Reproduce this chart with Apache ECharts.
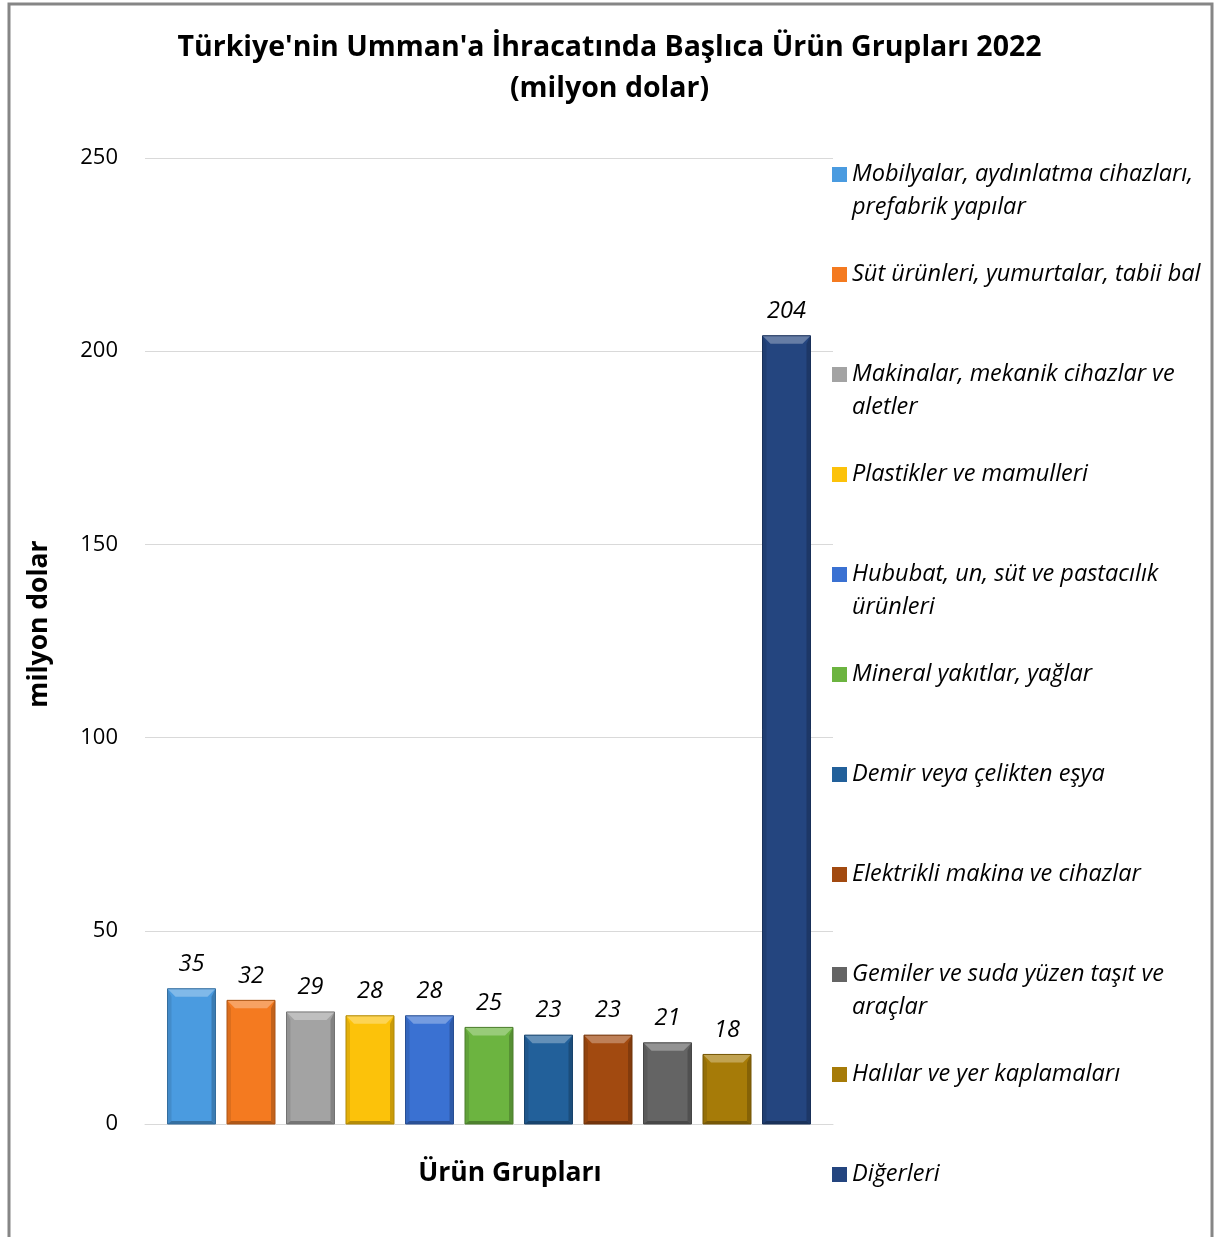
<!DOCTYPE html>
<html>
<head>
<meta charset="utf-8">
<script src="https://cdn.jsdelivr.net/npm/echarts@6/dist/echarts.min.js"></script>
<style>
html,body{margin:0;padding:0;background:#fff;}
#chart{width:1219px;height:1237px;}
</style>
</head>
<body>
<div id="chart"></div>
<script>
const titleText = "Türkiye'nin Umman'a İhracatında Başlıca Ürün Grupları 2022\n(milyon dolar)";
const xCategories = ['Ürün Grupları'];
const seriesNames = [
  'Mobilyalar, aydınlatma cihazları,\nprefabrik yapılar',
  'Süt ürünleri, yumurtalar, tabii bal',
  'Makinalar, mekanik cihazlar ve\naletler',
  'Plastikler ve mamulleri',
  'Hububat, un, süt ve pastacılık\nürünleri',
  'Mineral yakıtlar, yağlar',
  'Demir veya çelikten eşya',
  'Elektrikli makina ve cihazlar',
  'Gemiler ve suda yüzen taşıt ve\naraçlar',
  'Halılar ve yer kaplamaları',
  'Diğerleri'
];
const seriesValues = [35, 32, 29, 28, 28, 25, 23, 23, 21, 18, 204];
const seriesColors = ['#4a9be0','#f47a20','#a3a3a3','#fcc20a','#3a71d2','#6cb440','#22609a','#a24a10','#646464','#a67b08','#24457f'];
const yTicks = [0, 50, 100, 150, 200, 250];

function shade(hex, f) {
  const n = parseInt(hex.slice(1), 16);
  let r = (n >> 16) & 255, g = (n >> 8) & 255, b = n & 255;
  if (f < 0) { r = Math.round(r * (1 + f)); g = Math.round(g * (1 + f)); b = Math.round(b * (1 + f)); }
  else { r = Math.round(r + (255 - r) * f); g = Math.round(g + (255 - g) * f); b = Math.round(b + (255 - b) * f); }
  return 'rgb(' + r + ',' + g + ',' + b + ')';
}

const FONT = '"Open Sans"';
const BAR_W = 48;
const PITCH = 59.5;
const BEV = 8;
const N = seriesNames.length;

const chart = echarts.init(document.getElementById('chart'), null, {renderer: 'canvas'});

function makeRender(idx) {
  const c = seriesColors[idx];
  return function (params, api) {
    const val = api.value(1);
    const p0 = api.coord([api.value(0), 0]);
    const p1 = api.coord([api.value(0), val]);
    const cx = p0[0] + (idx - (N - 1) / 2) * PITCH;
    const x = cx - BAR_W / 2, w = BAR_W;
    const yT = p1[1], yB = p0[1];
    const b = BEV, s = 4;
    return {
      type: 'group',
      children: [
        {type: 'rect', shape: {x: x, y: yT, width: w, height: yB - yT},
         style: {fill: c}},
        {type: 'polygon', shape: {points: [[x, yT], [x + s, yT + b], [x + s, yB - 3], [x, yB]]},
         style: {fill: shade(c, -0.1)}},
        {type: 'polygon', shape: {points: [[x + w, yT], [x + w - s, yT + b], [x + w - s, yB - 3], [x + w, yB]]},
         style: {fill: shade(c, -0.2)}},
        {type: 'polygon', shape: {points: [[x, yB], [x + s, yB - 3], [x + w - s, yB - 3], [x + w, yB]]},
         style: {fill: shade(c, -0.28)}},
        {type: 'polygon', shape: {points: [[x, yT], [x + w, yT], [x + w - b, yT + b], [x + b, yT + b]]},
         style: {fill: shade(c, 0.3)}},
        {type: 'rect', shape: {x: x, y: yT, width: w, height: yB - yT},
         style: {fill: 'none', stroke: shade(c, -0.3), lineWidth: 1}},
        {type: 'text', style: {
          text: String(val), x: cx, y: yT - 13, align: 'center', verticalAlign: 'bottom',
          fontFamily: 'Open Sans', fontStyle: 'italic', fontSize: 23.5, fill: '#000'
        }}
      ]
    };
  };
}

const series = seriesNames.map((name, i) => ({
  name: name,
  type: 'custom',
  coordinateSystem: 'cartesian2d',
  renderItem: makeRender(i),
  itemStyle: {color: seriesColors[i]},
  encode: {x: 0, y: 1},
  data: [[xCategories[0], seriesValues[i]]]
}));

chart.setOption({
  animation: false,
  backgroundColor: '#fff',
  color: seriesColors,
  title: {
    text: titleText,
    left: 'center',
    top: 27,
    padding: 0,
    textStyle: {fontFamily: FONT, fontWeight: 'bold', fontSize: 28.5, lineHeight: 41, color: '#000'}
  },
  graphic: [{
    type: 'rect',
    shape: {x: 9, y: 4, width: 1203, height: 1300},
    style: {fill: 'none', stroke: '#868686', lineWidth: 3},
    silent: true
  }],
  legend: {
    orient: 'vertical',
    left: 832,
    top: 125,
    padding: 0,
    itemWidth: 15,
    itemHeight: 15,
    itemGap: 1,
    icon: 'rect',
    data: seriesNames,
    formatter: function (name) {
      return '\n' + (name.indexOf('\n') >= 0 ? name : name + '\n');
    },
    textStyle: {fontFamily: FONT, fontStyle: 'italic', fontSize: 23.5, lineHeight: 33, color: '#000'}
  },
  grid: {left: 145, right: 386, top: 158, bottom: 113, containLabel: false},
  xAxis: {
    type: 'category',
    data: xCategories,
    axisLine: {show: true, lineStyle: {color: '#d9d9d9', width: 1}},
    axisTick: {show: false},
    axisLabel: {
      fontFamily: FONT, fontWeight: 'bold', fontSize: 26.5, color: '#000',
      margin: 36, padding: [0, 0, 0, 42]
    }
  },
  yAxis: {
    type: 'value',
    min: yTicks[0],
    max: yTicks[yTicks.length - 1],
    interval: yTicks[1] - yTicks[0],
    name: 'milyon dolar',
    nameLocation: 'middle',
    nameGap: 92,
    nameRotate: 90,
    nameTextStyle: {fontFamily: FONT, fontWeight: 'bold', fontSize: 26.5, color: '#000', padding: [0, 0, 0, 34]},
    axisLine: {show: false},
    axisTick: {show: false},
    axisLabel: {fontFamily: FONT, fontSize: 22, color: '#000', margin: 27},
    splitLine: {lineStyle: {color: '#d9d9d9', width: 1}}
  },
  series: series
});
</script>
</body>
</html>
